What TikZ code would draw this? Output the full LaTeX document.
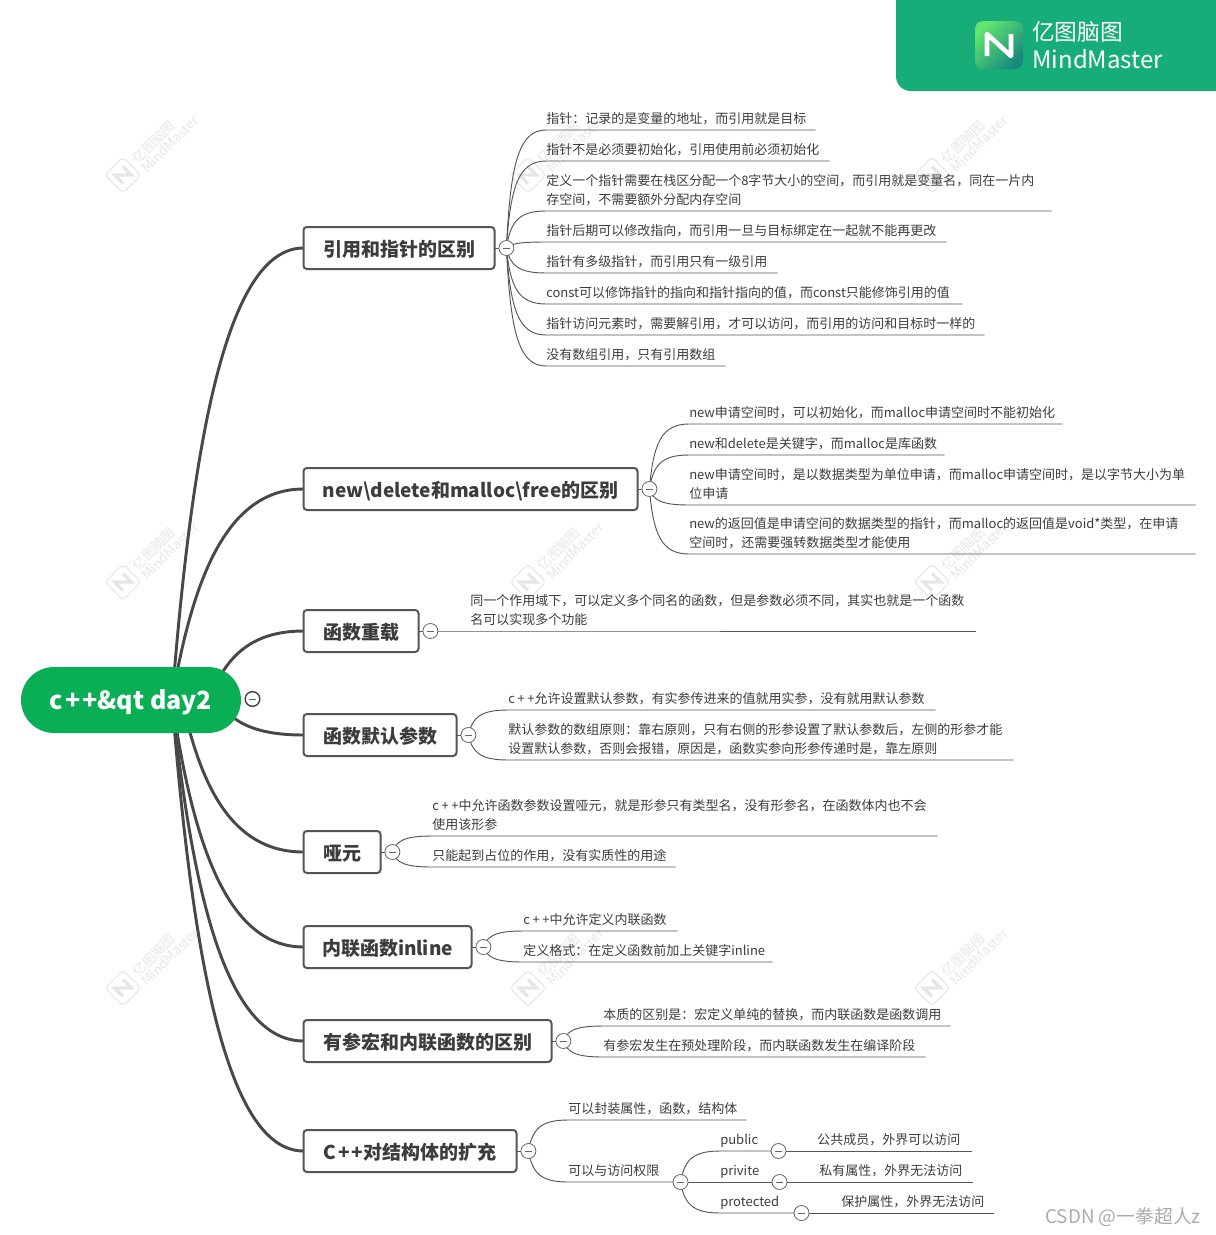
\documentclass[tikz,border=0pt]{standalone}
\usepackage{fontspec}
\setmainfont{Noto Sans CJK SC}
\usepackage{xcolor}
\usetikzlibrary{positioning,calc,backgrounds}
\definecolor{rootgreen}{HTML}{0AAE55}
\definecolor{bannergreen}{HTML}{16AD78}
\definecolor{logolight}{HTML}{63E570}
\definecolor{logodark}{HTML}{17897F}
\definecolor{limbgray}{HTML}{484848}
\definecolor{twiggray}{HTML}{555555}
\definecolor{foldgray}{HTML}{666666}
\definecolor{inkgray}{HTML}{3C3C3C}
\definecolor{wmgray}{HTML}{E6E6E6}
\definecolor{csdngray}{HTML}{ABABAB}
\tikzset{
    root/.style={rectangle, rounded corners=24.75pt, fill=rootgreen, minimum width=165pt, minimum height=49.5pt, inner sep=0pt, text height=16pt, text depth=1.5pt, font=\fontsize{18.75}{22}\selectfont\bfseries, text=white},
    branch/.style={rectangle, draw=twiggray, line width=1.5pt, rounded corners=2.5pt, fill=white, anchor=west, outer sep=0pt, minimum width=#1*0.75pt, minimum height=31.5pt, inner sep=0pt, text height=14pt, text depth=0.8pt, font=\fontsize{14.25}{17}\selectfont\bfseries, text=inkgray},
    leaf/.style={anchor=south west, inner xsep=0pt, inner ysep=3.75pt, text width=#1*0.75pt, align=left, font=\fontsize{9.75}{14.25}\selectfont, text=inkgray},
    fold/.style={circle, draw=foldgray, line width=0.6pt, fill=white, minimum size=11.25pt, inner sep=0pt, path picture={\draw[foldgray, line width=0.6pt] ([xshift=-2.8pt]path picture bounding box.center) -- ([xshift=2.8pt]path picture bounding box.center);}},
    twig/.style={draw=twiggray, line width=0.7pt, to path={let \p1=(\tikztostart), \p2=(\tikztotarget) in .. controls ({\x1+0.1*(\x2-\x1)},{\y1+0.7*(\y2-\y1)}) and ({\x1+0.3*(\x2-\x1)},\y2) .. (\tikztotarget)}},
    limb/.style={draw=limbgray, line width=2.2pt, to path={let \p1=(\tikztostart), \p2=(\tikztotarget) in .. controls ({\x1+0.15*(\x2-\x1)},{\y1+0.55*(\y2-\y1)}) and ({\x1+0.4*(\x2-\x1)},\y2) .. (\tikztotarget)}},
    wmark/.pic={
        \draw[wmgray, line width=0.8pt, rounded corners=3pt] (0,-18) -- (18,0) -- (0,18) -- (-18,0) -- cycle;
        \draw[wmgray, line width=2.4pt] (0,8.5) -- (-8.5,0) -- (8.5,0) -- (0,-8.5);
        \node[rotate=45, text=wmgray, font=\fontsize{10}{12}\selectfont] at (31,-33) {亿图脑图};
        \node[rotate=45, text=wmgray, font=\fontsize{10.2}{12}\selectfont] at (47,-31) {MindMaster};
    }
}

\begin{document}
\begin{tikzpicture}[x=0.75pt, y=-0.75pt]
\useasboundingbox (0,0) rectangle (1215,1235);

% ── Banner ──
\fill[bannergreen, rounded corners=11pt] (896,-40) rectangle (1260,91);
\node[rectangle, rounded corners=6pt, top color=logolight, bottom color=logodark, shading angle=45, minimum size=36pt, inner sep=0pt] (logo) at (999,45) {};
\draw[white, line width=3.4pt, line join=round] (987,56) -- (987,34) -- (1011,56) -- (1011,34);
\node[anchor=west, inner sep=0pt, text=white, font=\fontsize{17}{20}\selectfont] (bannerzh) at (1032,32) {亿图脑图};
\node[anchor=west, inner sep=0pt, text=white, font=\fontsize{18}{20}\selectfont] (banneren) at (1032,59) {MindMaster};

% ── Root ──
\node[root] (rootnode) at (131,700) {c\kern1.5pt+\kern1.5pt+\&qt day2};
\node[fold, draw=limbgray, line width=1.1pt, minimum size=11pt] (rootfold) at (252.5,699) {};
\coordinate (hub) at (172,700);
\coordinate (hubnear) at (182,700);
\coordinate (hubup) at (210,698);
\coordinate (hubdown) at (222,706);

% ── Branches ──
\node[branch=191] (refbox) at (303.5,248) {引用和指针的区别};
\node[branch=334] (newbox) at (303.5,489) {new\textbackslash delete和malloc\textbackslash free的区别};
\node[branch=115] (overbox) at (303.5,631) {函数重载};
\node[branch=153] (defbox) at (303.5,735) {函数默认参数};
\node[branch=77] (dummybox) at (303.5,852) {哑元};
\node[branch=168] (inlbox) at (303.5,947) {内联函数inline};
\node[branch=248] (macrobox) at (303.5,1041) {有参宏和内联函数的区别};
\node[branch=213] (structbox) at (303.5,1151) {C\kern1.5pt+\kern1.5pt+对结构体的扩充};

\node[fold, right=3pt of refbox] (reffold) {};
\node[fold, right=3pt of newbox] (newfold) {};
\node[fold, right=3pt of overbox] (overfold) {};
\node[fold, right=3pt of defbox] (deffold) {};
\node[fold, right=3pt of dummybox] (dummyfold) {};
\node[fold, right=3pt of inlbox] (inlfold) {};
\node[fold, right=3pt of macrobox] (macrofold) {};
\node[fold, right=3pt of structbox] (structfold) {};

% ── References and pointers ──
\node[leaf=269] (ref1) at (546,130) {指针：记录的是变量的地址，而引用就是目标};
\node[leaf=283] (ref2) at (546,161) {指针不是必须要初始化，引用使用前必须初始化};
\node[leaf=505] (ref3) at (546,211) {定义一个指针需要在栈区分配一个8字节大小的空间，而引用就是变量名，同在一片内\\存空间，不需要额外分配内存空间};
\node[leaf=400] (ref4) at (546,242) {指针后期可以修改指向，而引用一旦与目标绑定在一起就不能再更改};
\node[leaf=231] (ref5) at (546,273) {指针有多级指针，而引用只有一级引用};
\node[leaf=416] (ref6) at (546,304) {const可以修饰指针的指向和指针指向的值，而const只能修饰引用的值};
\node[leaf=438] (ref7) at (546,335) {指针访问元素时，需要解引用，才可以访问，而引用的访问和目标时一样的};
\node[leaf=179] (ref8) at (546,366) {没有数组引用，只有引用数组};

% ── new and malloc ──
\node[leaf=373] (new1) at (689,424) {new申请空间时，可以初始化，而malloc申请空间时不能初始化};
\node[leaf=255] (new2) at (689,455) {new和delete是关键字，而malloc是库函数};
\node[leaf=506] (new3) at (689,505) {new申请空间时，是以数据类型为单位申请，而malloc申请空间时，是以字节大小为单\\位申请};
\node[leaf=506] (new4) at (689,554) {new的返回值是申请空间的数据类型的指针，而malloc的返回值是void*类型，在申请\\空间时，还需要强转数据类型才能使用};

% ── Overloading ──
\node[leaf=505] (over1) at (470,631) {同一个作用域下，可以定义多个同名的函数，但是参数必须不同，其实也就是一个函数\\名可以实现多个功能};

% ── Default arguments ──
\node[leaf=427] (def1) at (508,710) {c\kern2pt+\kern2pt+允许设置默认参数，有实参传进来的值就用实参，没有就用默认参数};
\node[leaf=505] (def2) at (508,760) {默认参数的数组原则：靠右原则，只有右侧的形参设置了默认参数后，左侧的形参才能\\设置默认参数，否则会报错，原因是，函数实参向形参传递时是，靠左原则};

% ── Dummy parameters ──
\node[leaf=505] (dummy1) at (432,836) {c\kern2pt+\kern2pt+中允许函数参数设置哑元，就是形参只有类型名，没有形参名，在函数体内也不会\\使用该形参};
\node[leaf=243] (dummy2) at (432,867) {只能起到占位的作用，没有实质性的用途};

% ── Inline ──
\node[leaf=154] (inl1) at (523,931) {c\kern2pt+\kern2pt+中允许定义内联函数};
\node[leaf=249] (inl2) at (523,962) {定义格式：在定义函数前加上关键字inline};

% ── Macros ──
\node[leaf=347] (macro1) at (603,1026) {本质的区别是：宏定义单纯的替换，而内联函数是函数调用};
\node[leaf=322] (macro2) at (603,1057) {有参宏发生在预处理阶段，而内联函数发生在编译阶段};

% ── Struct ──
\node[leaf=178] (struct1) at (568,1120) {可以封装属性，函数，结构体};
\node[leaf=112] (struct2) at (568,1182) {可以与访问权限};
\node[fold] (accessfold) at (struct2.south east) {};
\node[leaf=58, inner ysep=2.25pt] (pub) at (720,1151) {public};
\node[leaf=59, inner ysep=2.25pt] (pri) at (720,1182) {privite};
\node[leaf=81, inner ysep=2.25pt] (pro) at (720,1213) {protected};
\node[fold] (pubfold) at (pub.south east) {};
\node[fold] (prifold) at (pri.south east) {};
\node[fold] (profold) at (pro.south east) {};
\node[leaf=154] (pubnote) at (817,1151) {公共成员，外界可以访问};
\node[leaf=153] (prinote) at (819,1182) {私有属性，外界无法访问};
\node[leaf=152] (pronote) at (841,1213) {保护属性，外界无法访问};

% ── Footer ──
\node[anchor=east, inner sep=0pt, text=csdngray, font=\fontsize{14.1}{16}\selectfont] (csdn) at (1201,1217) {CSDN @一拳超人z};

% ── Connectors ──
\begin{scope}[on background layer]
\foreach \wx in {123,528,932} \foreach \wy in {175,582,988} \pic at (\wx,\wy) {wmark};

\draw[limb] (hub) to (refbox.west);
\draw[limb] (hub) to (newbox.west);
\draw[limb] (hubup) to (overbox.west);
\draw[limb] (hubdown) to (defbox.west);
\draw[limb] (hubnear) to (dummybox.west);
\draw[limb] (hub) to (inlbox.west);
\draw[limb] (hub) to (macrobox.west);
\draw[limb] (hub) to (structbox.west);

\draw[twiggray, line width=0.7pt] (refbox.east) -- (reffold);
\draw[twiggray, line width=0.7pt] (newbox.east) -- (newfold);
\draw[twiggray, line width=0.7pt] (overbox.east) -- (overfold);
\draw[twiggray, line width=0.7pt] (defbox.east) -- (deffold);
\draw[twiggray, line width=0.7pt] (dummybox.east) -- (dummyfold);
\draw[twiggray, line width=0.7pt] (inlbox.east) -- (inlfold);
\draw[twiggray, line width=0.7pt] (macrobox.east) -- (macrofold);
\draw[twiggray, line width=0.7pt] (structbox.east) -- (structfold);

\foreach \leafname in {ref1,ref2,ref3,ref4,ref5,ref6,ref7,ref8} \draw[twig] (reffold.center) to (\leafname.south west) -- (\leafname.south east);
\foreach \leafname in {new1,new2,new3,new4} \draw[twig] (newfold.center) to (\leafname.south west) -- (\leafname.south east);
\foreach \leafname in {def1,def2} \draw[twig] (deffold.center) to (\leafname.south west) -- (\leafname.south east);
\foreach \leafname in {dummy1,dummy2} \draw[twig] (dummyfold.center) to (\leafname.south west) -- (\leafname.south east);
\foreach \leafname in {inl1,inl2} \draw[twig] (inlfold.center) to (\leafname.south west) -- (\leafname.south east);
\foreach \leafname in {macro1,macro2} \draw[twig] (macrofold.center) to (\leafname.south west) -- (\leafname.south east);
\foreach \leafname in {struct1,struct2} \draw[twig] (structfold.center) to (\leafname.south west) -- (\leafname.south east);
\foreach \leafname in {pub,pri,pro} \draw[twig] (accessfold.center) to (\leafname.south west) -- (\leafname.south east);

\draw[twiggray, line width=0.7pt] (overfold) -- (over1.south west) -- (over1.south east);
\draw[twiggray, line width=0.7pt] (pubfold) -- (pubnote.south west) -- (pubnote.south east);
\draw[twiggray, line width=0.7pt] (prifold) -- (prinote.south west) -- (prinote.south east);
\draw[twiggray, line width=0.7pt] (profold) -- (pronote.south west) -- (pronote.south east);
\end{scope}

\end{tikzpicture}
\end{document}
